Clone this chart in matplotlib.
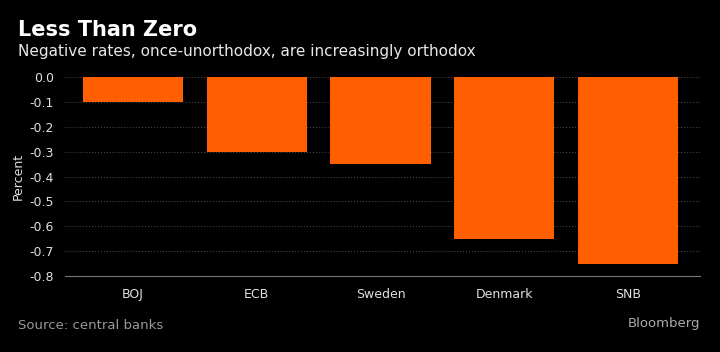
import matplotlib.pyplot as plt

# central bank deposit rates (percent)
banks = ['BOJ', 'ECB', 'Sweden', 'Denmark', 'SNB']
rates = [-0.1, -0.3, -0.35, -0.65, -0.75]
yticks = [0.0, -0.1, -0.2, -0.3, -0.4, -0.5, -0.6, -0.7, -0.8]

fig = plt.figure(figsize=(7.2, 3.52), dpi=100, facecolor='black')
ax = fig.add_axes([0.09, 0.216, 0.882, 0.565], facecolor='black')

ax.bar(range(len(banks)), rates, width=0.81, color='#ff5f00', zorder=3)

ax.set_xlim(-0.55, 4.58)
ax.set_ylim(-0.8, 0.0)
ax.set_yticks(yticks)
ax.set_yticklabels(['%.1f' % v for v in yticks])
ax.set_xticks(range(len(banks)))
ax.set_xticklabels(banks)

ax.grid(axis='y', color='#444444', linestyle=':', linewidth=0.8, zorder=0)
for s in ['top', 'right', 'left']:
    ax.spines[s].set_visible(False)
ax.spines['bottom'].set_color('#777777')
ax.tick_params(axis='both', colors='#e0e0e0', labelsize=9, length=0)
ax.tick_params(axis='x', pad=9)
ax.tick_params(axis='y', pad=8)
ax.set_ylabel('Percent', color='#e0e0e0', fontsize=9, labelpad=3)

fig.text(0.025, 0.915, 'Less Than Zero', color='white', fontsize=15,
         fontweight='bold', va='center')
fig.text(0.025, 0.855, 'Negative rates, once-unorthodox, are increasingly orthodox',
         color='#e8e8e8', fontsize=11, va='center')
fig.text(0.025, 0.075, 'Source: central banks', color='#999999',
         fontsize=9.5, va='center')
fig.text(0.972, 0.08, 'Bloomberg', color='#aaaaaa', fontsize=9.5,
         va='center', ha='right')

fig.savefig('out.png', dpi=100, facecolor='black')
